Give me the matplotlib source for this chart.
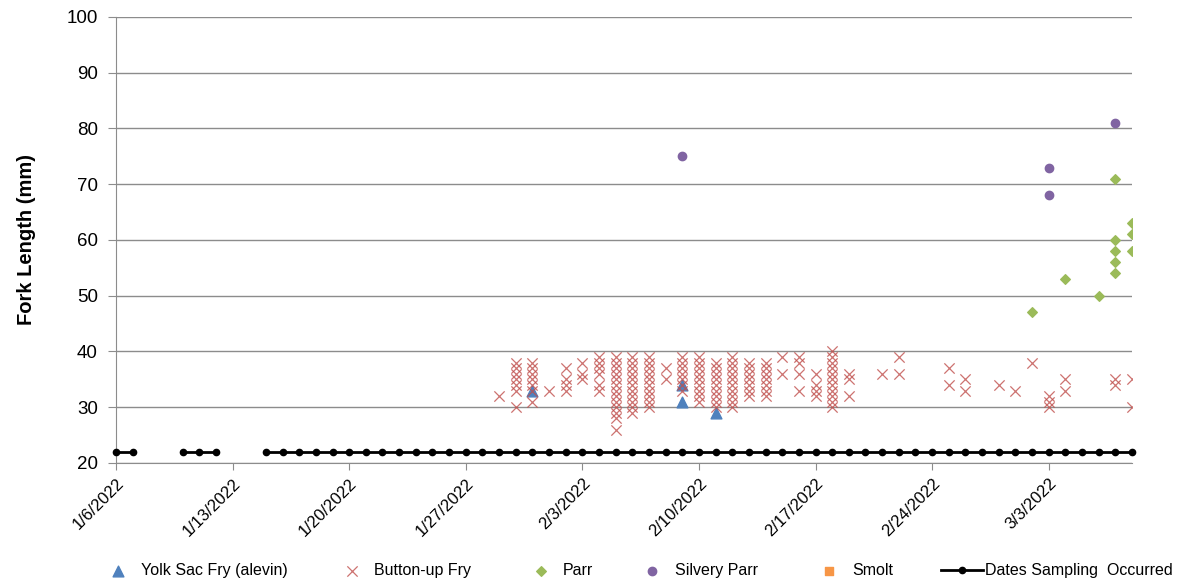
import datetime as dt
import numpy as np
import matplotlib
matplotlib.use("Agg")
import matplotlib.pyplot as plt

plt.rcParams['font.family'] = ['Liberation Sans', 'DejaVu Sans']

YEAR = 2022

def d(s):
  m, day = s.split('/')
  return dt.date(YEAR, int(m), int(day))

# fork lengths (mm) per sampling date
button_up_dates = ['1/29', '1/30', '1/31', '2/1', '2/2', '2/3', '2/4', '2/5', '2/6', '2/7',
                   '2/8', '2/9', '2/10', '2/11', '2/12', '2/13', '2/14', '2/15', '2/16',
                   '2/17', '2/18', '2/19', '2/21', '2/22', '2/25', '2/26', '2/28', '3/1',
                   '3/2', '3/3', '3/4', '3/7', '3/8']
button_up_lengths = [
  [32],
  [30, 33, 34, 35, 36, 37, 38],
  [31, 33, 34, 35, 36, 37, 38],
  [33],
  [33, 34, 35, 37],
  [35, 36, 38],
  [33, 34, 36, 37, 38, 39],
  [26, 28, 29, 30, 31, 32, 33, 34, 35, 36, 37, 38, 39],
  [29, 30, 31, 32, 33, 34, 35, 36, 37, 38, 39],
  [30, 31, 32, 33, 34, 35, 36, 37, 38, 39],
  [35, 37],
  [33, 34, 35, 36, 37, 38, 39],
  [31, 32, 33, 34, 35, 36, 37, 38, 39],
  [30, 31, 32, 33, 34, 35, 36, 37, 38],
  [30, 31, 32, 33, 34, 35, 36, 37, 38, 39],
  [32, 33, 34, 35, 36, 37, 38],
  [32, 33, 34, 35, 36, 37, 38],
  [36, 39],
  [33, 36, 38, 39],
  [32, 33, 34, 36],
  [30, 31, 32, 33, 34, 35, 36, 37, 38, 39, 40],
  [32, 35, 36],
  [36],
  [36, 39],
  [34, 37],
  [33, 35],
  [34],
  [33],
  [38],
  [30, 31, 32],
  [33, 35],
  [34, 35],
  [30, 35],
]

yolk_sac_dates = ['1/31', '2/9', '2/9', '2/11']
yolk_sac_lengths = [33, 34, 31, 29]

parr_dates = ['3/2', '3/4', '3/6', '3/7', '3/7', '3/7', '3/7', '3/7', '3/8', '3/8', '3/8']
parr_lengths = [47, 53, 50, 71, 60, 58, 56, 54, 63, 61, 58]

silvery_dates = ['2/9', '3/3', '3/3', '3/7']
silvery_lengths = [75, 73, 68, 81]

smolt_dates = []
smolt_lengths = []

sampling_dates = ['1/6', '1/7', '1/10', '1/11', '1/12'] + \
  [(dt.date(YEAR, 1, 15) + dt.timedelta(days=i)).strftime('%m/%d') for i in range(53)]
sampling_level = 22

x_tick_dates = ['1/6', '1/13', '1/20', '1/27', '2/3', '2/10', '2/17', '2/24', '3/3']

blue = '#4F81BD'
red = '#C0504D'
green = '#9BBB59'
purple = '#8064A2'
orange = '#F79646'
grid = '#8c8c8c'

W, H = 1180, 586
fig = plt.figure(figsize=(W / 100, H / 100), dpi=100)
ax = fig.add_axes([0.0983, 0.2099, 0.8610, 0.7611])

# sampling line, broken where days were skipped
samp = sorted(d(s) for s in sampling_dates)
runs = [[samp[0]]]
for prev, cur in zip(samp[:-1], samp[1:]):
  if (cur - prev).days == 1:
    runs[-1].append(cur)
  else:
    runs.append([cur])
for i, run in enumerate(runs):
  ax.plot(run, [sampling_level] * len(run), color='black', lw=2, marker='o', ms=4.5,
          clip_on=False, zorder=3, label='Dates Sampling  Occurred' if i == 0 else None)

bx, by = [], []
for s, vals in zip(button_up_dates, button_up_lengths):
  bx += [d(s)] * len(vals)
  by += vals

ax.scatter([d(s) for s in yolk_sac_dates], yolk_sac_lengths, marker='^', s=60,
           color=blue, zorder=4, label='Yolk Sac Fry (alevin)')
ax.scatter(bx, by, marker='x', s=55, color=red, linewidths=0.9, alpha=0.8,
           zorder=5, label='Button-up Fry')
ax.scatter([d(s) for s in parr_dates], parr_lengths, marker='D', s=24,
           color=green, zorder=4, label='Parr')
ax.scatter([d(s) for s in silvery_dates], silvery_lengths, marker='o', s=36,
           color=purple, zorder=4, label='Silvery Parr')
ax.scatter([d(s) for s in smolt_dates], smolt_lengths, marker='s', s=36,
           color=orange, zorder=4, label='Smolt')

ax.set_xlim(d('1/6'), d('3/8'))
ax.set_ylim(20, 100)
ax.set_yticks(np.arange(20, 101, 10))
ax.tick_params(axis='y', labelsize=13.5, length=6, color=grid, pad=7)
ax.yaxis.grid(True, color=grid, lw=1)
ax.set_axisbelow(True)

ticks = [d(s) for s in x_tick_dates]
ax.set_xticks(ticks)
ax.set_xticklabels(['%d/%d/%d' % (t.month, t.day, t.year) for t in ticks],
                   rotation=45, ha='right', rotation_mode='anchor', fontsize=12)
ax.tick_params(axis='x', length=5, color=grid, pad=4)

for side in ['top', 'right']:
  ax.spines[side].set_visible(False)
for side in ['left', 'bottom']:
  ax.spines[side].set_color(grid)

ax.set_ylabel('Fork Length (mm)', fontsize=14.5, fontweight='bold', labelpad=22)

# legend along the bottom: symbols from the legend machinery, labels on a shared baseline
handles, labels = ax.get_legend_handles_labels()
hmap = dict(zip(labels, handles))
legend_order = ['Yolk Sac Fry (alevin)', 'Button-up Fry', 'Parr', 'Silvery Parr', 'Smolt',
                'Dates Sampling  Occurred']
handle_left = [97, 331, 520, 631, 808, 941]
text_left = [141, 374, 563, 675, 852, 985]
for name, hx, tx in zip(legend_order, handle_left, text_left):
  fig.legend([hmap[name]], [''], loc='center left', bbox_to_anchor=(hx / W, 15 / H),
             frameon=False, fontsize=11.5, handlelength=2.6, handletextpad=0,
             borderpad=0, borderaxespad=0)
  fig.text(tx / W, 11 / H, name, fontsize=11.5, va='baseline', ha='left')

fig.savefig('out.png', dpi=100)
